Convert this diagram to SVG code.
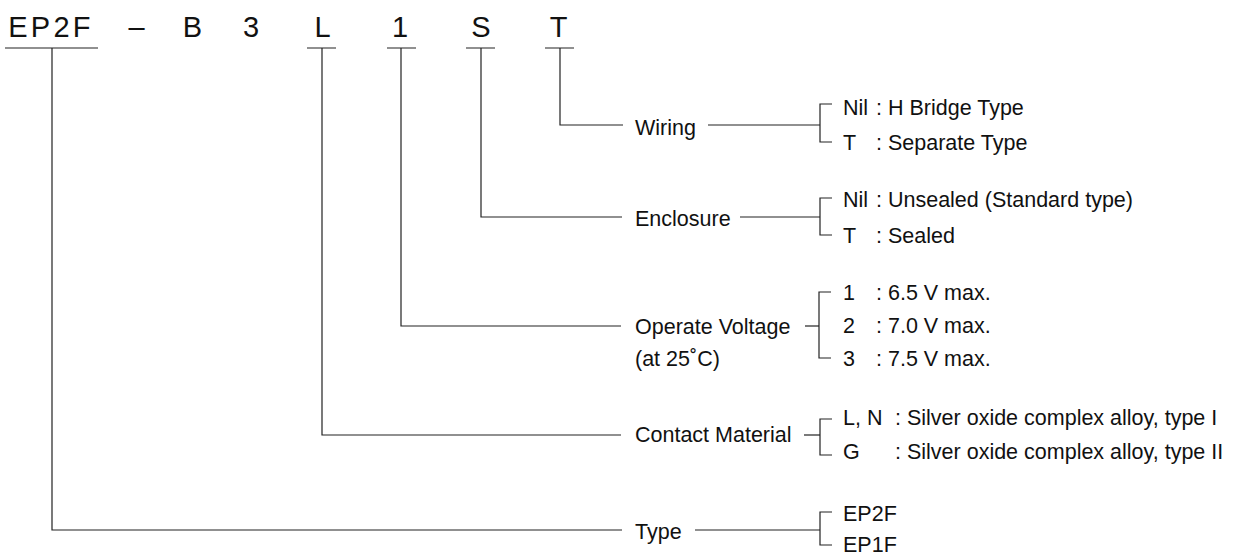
<svg xmlns="http://www.w3.org/2000/svg" width="1234" height="557" viewBox="0 0 1234 557">
<style>
.code{font-family:"Liberation Sans",Arial,Helvetica,sans-serif;font-size:29px;fill:#111;text-anchor:middle}
.lbl{font-family:"Liberation Sans",Arial,Helvetica,sans-serif;font-size:21.5px;fill:#111}
.ln{stroke:#222;stroke-width:1.2;fill:none}
</style>
<rect x="0" y="0" width="1234" height="557" fill="#fff"/>
<g id="code">
  <g id="code-type"><text class="code" x="51" y="37" letter-spacing="3.3">EP2F</text></g>
  <g id="code-dash"><text class="code" x="136.5" y="37">–</text></g>
  <g id="code-B"><text class="code" x="192.5" y="37">B</text></g>
  <g id="code-3"><text class="code" x="251" y="37">3</text></g>
  <g id="code-L"><text class="code" x="322.5" y="37">L</text></g>
  <g id="code-1"><text class="code" x="400" y="37">1</text></g>
  <g id="code-S"><text class="code" x="481" y="37">S</text></g>
  <g id="code-T"><text class="code" x="558.5" y="37">T</text></g>
</g>
<g id="connectors" class="ln">
  <path d="M5 48H98M307 48H336M387 48H416M466 48H495M545 48H574"/>
  <path d="M52 48V530H622"/>
  <path d="M322 48V435H621"/>
  <path d="M401 48V326H621"/>
  <path d="M481 48V217H622"/>
  <path d="M560 48V125H623"/>
  <path d="M708 125H820"/>
  <path d="M740 217H820"/>
  <path d="M805 326H819"/>
  <path d="M804 435H820"/>
  <path d="M695 530H820"/>
  <path d="M832 104H820V142H832"/>
  <path d="M832 198H820V235H832"/>
  <path d="M831 292H819V358H831"/>
  <path d="M832 419H820V455H832"/>
  <path d="M832 512H820V545H832"/>
</g>
<g id="wiring">
  <text class="lbl" x="635" y="135">Wiring</text>
  <text class="lbl" x="843" y="115">Nil</text><text class="lbl" x="876" y="115">: H Bridge Type</text>
  <text class="lbl" x="843" y="150">T</text><text class="lbl" x="876" y="150">: Separate Type</text>
</g>
<g id="enclosure">
  <text class="lbl" x="635" y="226">Enclosure</text>
  <text class="lbl" x="843" y="207">Nil</text><text class="lbl" x="876" y="207">: Unsealed (Standard type)</text>
  <text class="lbl" x="843" y="243">T</text><text class="lbl" x="876" y="243">: Sealed</text>
</g>
<g id="voltage">
  <text class="lbl" x="635" y="334">Operate Voltage</text>
  <text class="lbl" x="635" y="366">(at 25˚C)</text>
  <text class="lbl" x="843" y="300">1</text><text class="lbl" x="876" y="300">: 6.5 V max.</text>
  <text class="lbl" x="843" y="333">2</text><text class="lbl" x="876" y="333">: 7.0 V max.</text>
  <text class="lbl" x="843" y="366">3</text><text class="lbl" x="876" y="366">: 7.5 V max.</text>
</g>
<g id="contact">
  <text class="lbl" x="635" y="442">Contact Material</text>
  <text class="lbl" x="843" y="425">L, N</text><text class="lbl" x="895" y="425">: Silver oxide complex alloy, type I</text>
  <text class="lbl" x="843" y="459">G</text><text class="lbl" x="895" y="459">: Silver oxide complex alloy, type II</text>
</g>
<g id="type">
  <text class="lbl" x="635" y="539">Type</text>
  <text class="lbl" x="843" y="521">EP2F</text>
  <text class="lbl" x="843" y="552">EP1F</text>
</g>
</svg>
